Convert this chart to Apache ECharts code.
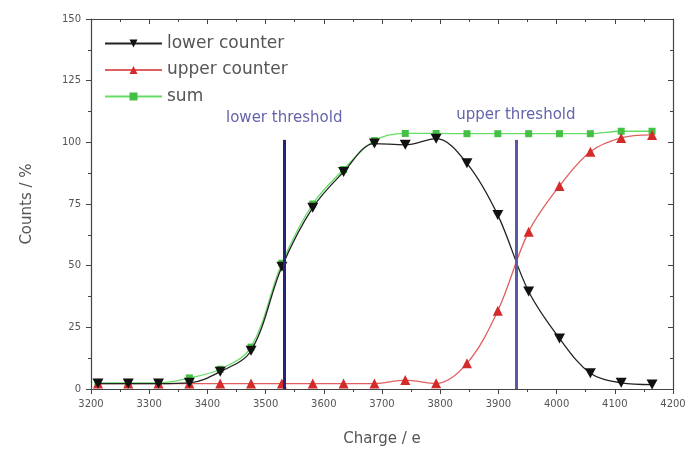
<!DOCTYPE html>
<html>
<head>
<meta charset="utf-8">
<script src="https://cdn.jsdelivr.net/npm/echarts@6/dist/echarts.min.js"></script>
<style>
  html, body { margin: 0; padding: 0; background: #fff; }
  #chart { width: 695px; height: 459px; }
</style>
</head>
<body>
<div id="chart"></div>
<script>
// Charge values (e) at which the counters were measured
const charge = [3212, 3264, 3316, 3369, 3422, 3475, 3528, 3581, 3634, 3687, 3740, 3793, 3846, 3899, 3952, 4005, 4058, 4111, 4164];
// Counts in percent
const lowerCounter = [2.2, 2.2, 2.2, 2.5, 7, 15.5, 49.6, 73.5, 88, 99.5, 99, 101.5, 91.5, 70.5, 39.5, 20.5, 6.4, 2.5, 1.8];
const upperCounter = [2.2, 2.2, 2.2, 2.2, 2.2, 2.2, 2.2, 2.2, 2.2, 2.2, 3.6, 2.3, 10.4, 31.7, 63.8, 82.3, 96.2, 101.8, 103];
const sumCounts = [2.5, 2.5, 2.5, 4.5, 8, 17, 51, 75, 89, 100.7, 103.6, 103.6, 103.5, 103.5, 103.5, 103.5, 103.5, 104.5, 104.5];
// Threshold positions (e) and the height of their marker lines (%)
const lowerThreshold = 3532;
const upperThreshold = 3930;
const thresholdTop = 101;

const pairs = ys => charge.map((x, i) => [x, ys[i]]);

const FONT = 'DejaVu Sans';
const TXT = '#555';
const AXIS = '#444';
const downTriangle = 'path://M0,0 L10,0 L5,9 Z';

const chart = echarts.init(document.getElementById('chart'), null, { renderer: 'canvas' });

const axisCommon = {
  type: 'value',
  axisLine: { show: true, onZero: false, lineStyle: { color: AXIS, width: 1.2 } },
  splitLine: { show: false },
  minorTick: { show: true, splitNumber: 2, length: 3, lineStyle: { color: AXIS } },
  axisTick: { show: true, length: 5, lineStyle: { color: AXIS } }
};

chart.setOption({
  animation: false,
  backgroundColor: '#fff',
  grid: { left: 91, right: 22, top: 19, bottom: 70 },
  legend: {
    orient: 'vertical',
    left: 99,
    top: 30,
    itemWidth: 57,
    itemHeight: 10,
    itemGap: 9.5,
    data: ['lower counter', 'upper counter', 'sum'],
    textStyle: { fontFamily: FONT, fontSize: 17, color: TXT, lineHeight: 17 }
  },
  xAxis: [
    Object.assign({}, axisCommon, {
      min: 3200, max: 4200, interval: 100,
      name: 'Charge / e', nameLocation: 'middle', nameGap: 43,
      nameTextStyle: { fontFamily: FONT, fontSize: 15, color: TXT },
      axisLabel: { fontFamily: FONT, fontSize: 10, color: TXT, margin: 10, formatter: v => String(v) }
    }),
    Object.assign({}, axisCommon, {
      position: 'top', min: 3200, max: 4200, interval: 100,
      axisTick: { show: true, inside: true, length: 5, lineStyle: { color: AXIS } },
      minorTick: { show: true, splitNumber: 2, length: 3, lineStyle: { color: AXIS } },
      axisLabel: { show: false }
    })
  ],
  yAxis: [
    Object.assign({}, axisCommon, {
      min: 0, max: 150, interval: 25,
      name: 'Counts / %', nameLocation: 'middle', nameGap: 56,
      nameTextStyle: { fontFamily: FONT, fontSize: 15, color: TXT },
      axisLabel: { fontFamily: FONT, fontSize: 10, color: TXT, margin: 10 }
    }),
    Object.assign({}, axisCommon, {
      position: 'right', min: 0, max: 150, interval: 25,
      axisTick: { show: true, inside: true, length: 5, lineStyle: { color: AXIS } },
      minorTick: { show: true, splitNumber: 2, length: 3, lineStyle: { color: AXIS } },
      axisLabel: { show: false }
    })
  ],
  series: [
    {
      name: 'sum',
      type: 'line',
      data: pairs(sumCounts),
      smooth: 0.35,
      symbol: 'rect',
      symbolSize: 7,
      lineStyle: { color: '#66dd66', width: 1.3 },
      itemStyle: { color: '#44c044' },
      z: 2
    },
    {
      name: 'upper counter',
      type: 'line',
      data: pairs(upperCounter),
      smooth: 0.35,
      symbol: 'triangle',
      symbolSize: 10,
      lineStyle: { color: '#e06060', width: 1.3 },
      itemStyle: { color: '#d42a2a' },
      z: 3
    },
    {
      name: 'lower counter',
      type: 'line',
      data: pairs(lowerCounter),
      smooth: 0.35,
      symbol: downTriangle,
      symbolSize: [11, 10],
      lineStyle: { color: '#222', width: 1.3 },
      itemStyle: { color: '#111' },
      z: 4,
      markLine: {
        silent: true,
        symbol: 'none',
        animation: false,
        data: [
          [
            { coord: [lowerThreshold, 0], lineStyle: { color: '#24247a', width: 3, type: 'solid' },
              label: { show: true, position: 'end', formatter: 'lower threshold', distance: 14,
                       fontFamily: FONT, fontSize: 15, color: '#6464aa' } },
            { coord: [lowerThreshold, thresholdTop] }
          ],
          [
            { coord: [upperThreshold, 0], lineStyle: { color: '#5a5aa4', width: 3, type: 'solid' },
              label: { show: true, position: 'end', formatter: 'upper threshold', distance: 17,
                       fontFamily: FONT, fontSize: 15, color: '#6464aa' } },
            { coord: [upperThreshold, thresholdTop] }
          ]
        ]
      }
    }
  ]
});
</script>
</body>
</html>
